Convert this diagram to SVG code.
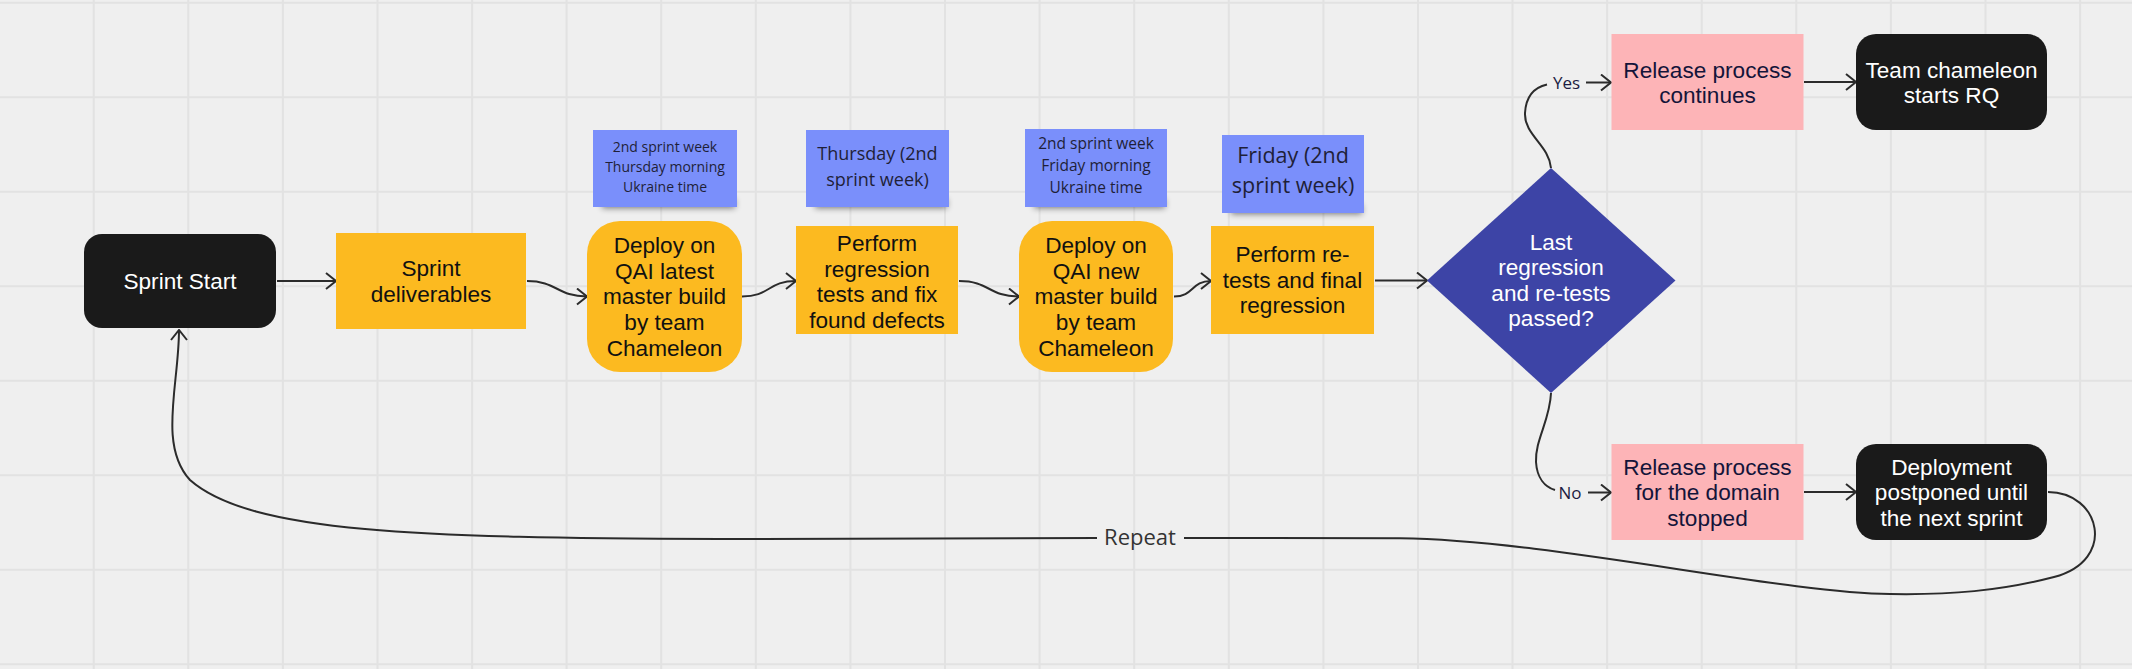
<svg xmlns="http://www.w3.org/2000/svg" width="2132" height="669" viewBox="0 0 2132 669">
<defs>
<style>
.bg{fill:#efefef}
.grid{stroke:#e2e2e2;stroke-width:2;fill:none}
.edge{stroke:#2b2b2b;stroke-width:2;fill:none}
.arr{marker-end:url(#ah)}
.black{fill:#1a1a1a}
.orange{fill:#fcba20}
.pink{fill:#fdb4b7}
.note{fill:#7a8ffb}
.dia{fill:#3d44a6}
.shadow{fill:#000;opacity:0.5;filter:url(#blur)}
.t{font-family:"Liberation Sans",Arial,sans-serif;font-size:22.6px;text-anchor:middle}
.tw{fill:#ffffff}
.td{fill:#111111}
.tp{fill:#14143a}
.n{font-family:"Open Sans","Noto Sans",sans-serif;text-anchor:middle;fill:#1f1f38}
.lbl{font-family:"Open Sans","Noto Sans",sans-serif;font-size:17px;text-anchor:middle;fill:#1c1c42}
.rep{font-family:"Open Sans","Noto Sans",sans-serif;font-size:22px;text-anchor:middle;fill:#333333}
</style>
<filter id="blur" x="-20%" y="-100%" width="140%" height="300%"><feGaussianBlur stdDeviation="3"/></filter>
<marker id="ah" viewBox="0 0 12 18" markerWidth="12" markerHeight="18" refX="11" refY="9" orient="auto" markerUnits="userSpaceOnUse">
<path d="M1,1 L11,9 L1,17" fill="none" stroke="#2b2b2b" stroke-width="2"/>
</marker>
</defs>
<rect class="bg" x="0" y="0" width="2132" height="669"/>
<g id="grid">
<path class="grid" d="M93.7,0V669M188.3,0V669M282.9,0V669M377.5,0V669M472.1,0V669M566.6,0V669M661.2,0V669M755.8,0V669M850.4,0V669M945,0V669M1039.6,0V669M1134.2,0V669M1228.8,0V669M1323.4,0V669M1418,0V669M1512.5,0V669M1607.1,0V669M1701.7,0V669M1796.3,0V669M1890.9,0V669M1985.5,0V669M2080.1,0V669"/>
<path class="grid" d="M0,2.7H2132M0,97.2H2132M0,191.7H2132M0,286.2H2132M0,380.7H2132M0,475.2H2132M0,569.7H2132M0,664.2H2132"/>
</g>
<g id="connectors">
<path class="edge arr" d="M277,281 L336,281"/>
<path class="edge arr" d="M527,281 C557,281 557,296.5 587,296.5"/>
<path class="edge arr" d="M742,296.5 C770,296.5 768,281 796,281"/>
<path class="edge arr" d="M959,281 C990,281 988,296.5 1019,296.5"/>
<path class="edge arr" d="M1174,296.5 C1194,296.5 1191,281 1211,281"/>
<path class="edge arr" d="M1375,280.5 L1427,280.5"/>
<path class="edge" d="M1551,168 C1549,145 1524,135 1525,113 C1526,95 1536,87 1547,84.5"/>
<path class="edge arr" d="M1586,82.5 L1611,82.5"/>
<text class="lbl" x="1566.5" y="88.5">Yes</text>
<path class="edge" d="M1551,393 C1550,420 1535,440 1536,462 C1537,478 1545,487 1555,490"/>
<path class="edge arr" d="M1588,492.5 L1611,492.5"/>
<text class="lbl" x="1570" y="498.5">No</text>
<path class="edge arr" d="M1804,82 L1856,82"/>
<path class="edge arr" d="M1804,492 L1856,492"/>
<path class="edge" d="M2048,492 C2100,492 2118,560 2054,577 C2000,591 1950,595 1890,594 C1780,593 1550,540 1400,538.3 L1184,538"/>
<path class="edge arr" d="M1097,538 L720,539 C420,538 250,533 190,480 C158,445 179,385 179,330"/>
<text class="rep" x="1140" y="545">Repeat</text>
</g>
<g id="sprint-start">
<rect class="black" x="84" y="234" width="192" height="94" rx="18"/>
<text class="t tw" x="180" y="289">Sprint Start</text>
</g>
<g id="sprint-deliverables">
<rect class="orange" x="336" y="233" width="190" height="96"/>
<text class="t td" x="431" y="276.2">Sprint</text>
<text class="t td" x="431" y="301.8">deliverables</text>
</g>
<g id="note-1">
<rect class="shadow" x="602" y="199" width="133" height="9"/>
<rect class="note" x="593" y="130" width="144" height="77"/>
<text class="n" font-size="14" x="665" y="152">2nd sprint week</text>
<text class="n" font-size="14" x="665" y="172">Thursday morning</text>
<text class="n" font-size="14" x="665" y="192">Ukraine time</text>
</g>
<g id="deploy-latest">
<rect class="orange" x="587" y="221" width="155" height="151" rx="33"/>
<text class="t td" x="664.5" y="253.1">Deploy on</text>
<text class="t td" x="664.5" y="278.7">QAI latest</text>
<text class="t td" x="664.5" y="304.3">master build</text>
<text class="t td" x="664.5" y="329.9">by team</text>
<text class="t td" x="664.5" y="355.5">Chameleon</text>
</g>
<g id="note-2">
<rect class="shadow" x="815" y="199" width="132" height="9"/>
<rect class="note" x="806" y="130" width="143" height="77"/>
<text class="n" font-size="18" x="877.5" y="159.8">Thursday (2nd</text>
<text class="n" font-size="18" x="877.5" y="185.8">sprint week)</text>
</g>
<g id="perform-regression">
<rect class="orange" x="796" y="226" width="162" height="108"/>
<text class="t td" x="877" y="251">Perform</text>
<text class="t td" x="877" y="276.6">regression</text>
<text class="t td" x="877" y="302.2">tests and fix</text>
<text class="t td" x="877" y="327.8">found defects</text>
</g>
<g id="note-3">
<rect class="shadow" x="1034" y="199" width="131" height="9"/>
<rect class="note" x="1025" y="129" width="142" height="78"/>
<text class="n" font-size="15.5" x="1096" y="148.8">2nd sprint week</text>
<text class="n" font-size="15.5" x="1096" y="170.8">Friday morning</text>
<text class="n" font-size="15.5" x="1096" y="192.8">Ukraine time</text>
</g>
<g id="deploy-new">
<rect class="orange" x="1019" y="221" width="154" height="151" rx="33"/>
<text class="t td" x="1096" y="253.1">Deploy on</text>
<text class="t td" x="1096" y="278.7">QAI new</text>
<text class="t td" x="1096" y="304.3">master build</text>
<text class="t td" x="1096" y="329.9">by team</text>
<text class="t td" x="1096" y="355.5">Chameleon</text>
</g>
<g id="note-4">
<rect class="shadow" x="1231" y="205" width="131" height="9"/>
<rect class="note" x="1222" y="135" width="142" height="78"/>
<text class="n" font-size="21.5" x="1293" y="162.7">Friday (2nd</text>
<text class="n" font-size="21.5" x="1293" y="192.7">sprint week)</text>
</g>
<g id="perform-retests">
<rect class="orange" x="1211" y="226" width="163" height="108"/>
<text class="t td" x="1292.5" y="262">Perform re-</text>
<text class="t td" x="1292.5" y="287.6">tests and final</text>
<text class="t td" x="1292.5" y="313.2">regression</text>
</g>
<g id="decision">
<polygon class="dia" points="1551,168 1675.5,280.5 1551,393 1427,280.5"/>
<text class="t tw" x="1551" y="249.5">Last</text>
<text class="t tw" x="1551" y="275">regression</text>
<text class="t tw" x="1551" y="300.5">and re-tests</text>
<text class="t tw" x="1551" y="326">passed?</text>
</g>
<g id="release-continues">
<rect class="pink" x="1611.5" y="34" width="192" height="96"/>
<text class="t tp" x="1707.5" y="77.5">Release process</text>
<text class="t tp" x="1707.5" y="102.5">continues</text>
</g>
<g id="team-chameleon">
<rect class="black" x="1856" y="34" width="191" height="96" rx="20"/>
<text class="t tw" x="1951.5" y="77.5">Team chameleon</text>
<text class="t tw" x="1951.5" y="102.5">starts RQ</text>
</g>
<g id="release-stopped">
<rect class="pink" x="1611.5" y="444" width="192" height="96"/>
<text class="t tp" x="1707.5" y="474.5">Release process</text>
<text class="t tp" x="1707.5" y="500">for the domain</text>
<text class="t tp" x="1707.5" y="525.5">stopped</text>
</g>
<g id="deployment-postponed">
<rect class="black" x="1856" y="444" width="191" height="96" rx="20"/>
<text class="t tw" x="1951.5" y="474.5">Deployment</text>
<text class="t tw" x="1951.5" y="500">postponed until</text>
<text class="t tw" x="1951.5" y="525.5">the next sprint</text>
</g>
</svg>
